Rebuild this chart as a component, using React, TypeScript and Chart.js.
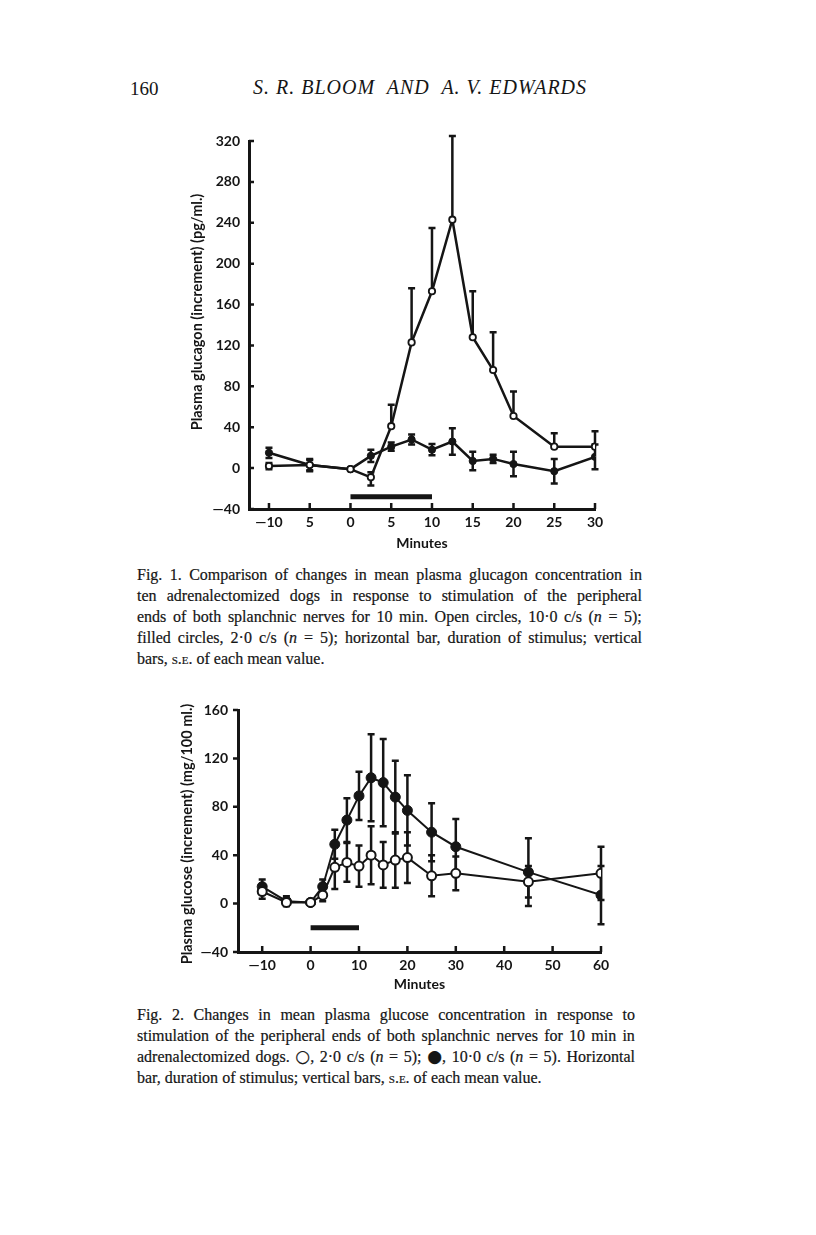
import React, { useEffect, useRef } from "react";
import { Chart, registerables } from "chart.js";
Chart.register(...registerables);

// ---------- Fig. 1 data (plasma glucagon) ----------
const minutes1 = [-10, -5, 0, 2.5, 5, 7.5, 10, 12.5, 15, 17.5, 20, 25, 30];
const open1 = [2, 3, -1, -9, 41, 123, 173, 243, 128, 96, 51, 21, 21];
const open1Up = [3, 5, 0, 5, 21, 53, 62, 82, 45, 37, 24, 13, 15];
const open1Down = [3, 5, 0, 8, 0, 0, 0, 0, 0, 0, 0, 0, 0];
const filled1 = [15, 3, -1, 12, 21, 28, 18, 26, 7, 9, 4, -3, 11];
const filled1Err = [5, 6, 0, 6, 4, 5, 5.5, 13, 9, 4, 12, 12, 12];
const stim1 = [0, 10];
const stimLevel1 = -28;
const xTicks1 = [-10, -5, 0, 5, 10, 15, 20, 25, 30];
const xTickLabels1 = ["\u201410", "5", "0", "5", "10", "15", "20", "25", "30"];

// ---------- Fig. 2 data (plasma glucose) ----------
const minutes2 = [-10, -5, 0, 2.5, 5, 7.5, 10, 12.5, 15, 17.5, 20, 25, 30, 45, 60];
const filled2 = [14, 2, 1, 14, 49, 69, 89, 104, 100, 88, 77, 59, 47, 26, 7];
const filled2Err = [6, 4, 0, 6, 12, 18, 20, 36, 36, 30, 29, 24, 23, 28, 24];
const open2 = [10, 1, 1, 7, 30, 34, 31, 40, 32, 36, 38, 23, 25, 18, 25];
const open2Err = [6, 3, 0, 5, 18, 16, 17, 24, 19, 23, 21, 17, 14, 13, 22];
const stim2 = [0, 10];
const stimLevel2 = -20;
const xTicks2 = [-10, 0, 10, 20, 30, 40, 50, 60];
const xTickLabels2 = ["\u201410", "0", "10", "20", "30", "40", "50", "60"];

const INK = "#151515";
const FONT = "Lato";
const fmt = (v: number) => (v < 0 ? "\u2014" + Math.abs(v) : String(v));
const pts = (xs: number[], ys: number[]) => xs.map((x, i) => ({ x, y: ys[i] }));

const errorBars = {
  id: "errorBars",
  beforeDatasetsDraw(chart: any) {
    const ctx = chart.ctx;
    const xs = chart.scales.x;
    const ys = chart.scales.y;
    chart.data.datasets.forEach((ds: any) => {
      if (!ds.errUp) return;
      ctx.save();
      ctx.strokeStyle = INK;
      ctx.lineWidth = ds.errWidth || 2.5;
      const half = (ds.capWidth || 7) / 2;
      ds.data.forEach((p: any, j: number) => {
        const px = xs.getPixelForValue(p.x);
        const py = ys.getPixelForValue(p.y);
        const ends = [ds.errUp[j], -ds.errDown[j]];
        ends.forEach((e: number) => {
          if (!e) return;
          const ty = ys.getPixelForValue(p.y + e);
          ctx.beginPath();
          ctx.moveTo(px, py);
          ctx.lineTo(px, ty);
          ctx.moveTo(px - half, ty);
          ctx.lineTo(px + half, ty);
          ctx.stroke();
        });
      });
      ctx.restore();
    });
  },
};

const tickMarks = {
  id: "tickMarks",
  afterDraw(chart: any, _args: any, opts: any) {
    const ctx = chart.ctx;
    const ca = chart.chartArea;
    const xs = chart.scales.x;
    const ys = chart.scales.y;
    ctx.save();
    ctx.strokeStyle = INK;
    ctx.lineWidth = opts.width || 2.5;
    ctx.beginPath();
    xs.ticks.forEach((t: any) => {
      const px = xs.getPixelForValue(t.value);
      ctx.moveTo(px, ca.bottom);
      ctx.lineTo(px, ca.bottom - opts.xLen);
    });
    ys.ticks.forEach((t: any) => {
      const py = ys.getPixelForValue(t.value);
      ctx.moveTo(ca.left, py);
      ctx.lineTo(ca.left + opts.yLen, py);
    });
    ctx.stroke();
    ctx.restore();
  },
};

const yTitle = {
  id: "yTitle",
  afterDraw(chart: any, _args: any, opts: any) {
    const ctx = chart.ctx;
    ctx.save();
    ctx.translate(opts.x, opts.y);
    ctx.rotate(-Math.PI / 2);
    ctx.fillStyle = INK;
    ctx.font = `bold ${opts.size}px ${FONT}`;
    ctx.textAlign = "center";
    ctx.textBaseline = "middle";
    ctx.fillText(opts.text, 0, 0);
    ctx.restore();
  },
};

function makeConfig(p: any) {
  const tickFont = { family: FONT, weight: "bold" as const, size: 14 };
  return {
    type: "line" as const,
    data: {
      datasets: [
        {
          data: pts(p.xs, p.open),
          errUp: p.openUp,
          errDown: p.openDown,
          errWidth: p.errWidth,
          capWidth: p.cap,
          borderColor: INK,
          borderWidth: p.lineWidth,
          pointRadius: p.openR,
          pointBorderWidth: p.ptBorder,
          pointBackgroundColor: "#ffffff",
          pointBorderColor: INK,
          tension: 0,
        },
        {
          data: pts(p.xs, p.filled),
          errUp: p.filledErr,
          errDown: p.filledErr,
          errWidth: p.errWidth,
          capWidth: p.cap,
          borderColor: INK,
          borderWidth: p.lineWidth,
          pointRadius: p.filledR,
          pointBorderWidth: 1,
          pointBackgroundColor: INK,
          pointBorderColor: INK,
          tension: 0,
        },
        {
          data: p.stim.map((x: number) => ({ x, y: p.stimLevel })),
          borderColor: INK,
          borderWidth: 5,
          borderCapStyle: "butt",
          pointRadius: 0,
        },
      ],
    },
    options: {
      animation: false,
      responsive: false,
      devicePixelRatio: 1,
      layout: { padding: { left: 0, right: p.padRight, top: p.padTop, bottom: 0 } },
      plugins: {
        legend: { display: false },
        tooltip: { enabled: false },
        tickMarks: { xLen: 6, yLen: p.yTickLen, width: 2.5 },
        yTitle: { text: p.yTitle, x: p.yTitleX, y: p.yTitleY, size: 14.5 },
      },
      scales: {
        x: {
          type: "linear",
          min: p.xMin,
          max: p.xMax,
          afterBuildTicks: (s: any) => {
            s.ticks = p.xTicks.map((v: number) => ({ value: v }));
          },
          afterFit: (s: any) => {
            s.height = p.xHeight;
          },
          grid: { display: false, drawTicks: false },
          border: { display: true, color: INK, width: 3 },
          ticks: {
            callback: (_v: any, i: number) => p.xLabels[i],
            font: tickFont,
            color: INK,
            padding: 5,
            maxRotation: 0,
            autoSkip: false,
          },
          title: {
            display: true,
            text: "Minutes",
            color: INK,
            font: tickFont,
            padding: { top: 0, bottom: p.titlePad },
          },
        },
        y: {
          min: p.yMin,
          max: p.yMax,
          afterFit: (s: any) => {
            s.width = p.yWidth;
          },
          grid: { display: false, drawTicks: false },
          border: { display: true, color: INK, width: 3 },
          ticks: {
            stepSize: 40,
            callback: (v: any) => fmt(v),
            font: tickFont,
            color: INK,
            padding: p.yPad,
          },
        },
      },
    },
    plugins: [errorBars, tickMarks, yTitle],
  };
}

const config1 = makeConfig({
  xs: minutes1,
  open: open1,
  openUp: open1Up,
  openDown: open1Down,
  filled: filled1,
  filledErr: filled1Err,
  stim: stim1,
  stimLevel: stimLevel1,
  xTicks: xTicks1,
  xLabels: xTickLabels1,
  xMin: -12.45,
  xMax: 30,
  yMin: -40,
  yMax: 320,
  lineWidth: 2.5,
  errWidth: 2.5,
  cap: 7,
  openR: 3.2,
  filledR: 3.6,
  ptBorder: 1.8,
  padRight: 35,
  padTop: 21,
  xHeight: 51,
  yWidth: 99,
  yPad: 9,
  yTickLen: 5,
  titlePad: 8,
  yTitle: "Plasma glucagon (increment) (pg/ml.)",
  yTitleX: 47,
  yTitleY: 192,
});

const config2 = makeConfig({
  xs: minutes2,
  open: open2,
  openUp: open2Err,
  openDown: open2Err,
  filled: filled2,
  filledErr: filled2Err,
  stim: stim2,
  stimLevel: stimLevel2,
  xTicks: xTicks2,
  xLabels: xTickLabels2,
  xMin: -15,
  xMax: 60,
  yMin: -40,
  yMax: 160,
  lineWidth: 2,
  errWidth: 2.5,
  cap: 7,
  openR: 4.5,
  filledR: 5,
  ptBorder: 2,
  padRight: 29,
  padTop: 20,
  xHeight: 48,
  yWidth: 88,
  yPad: 10,
  yTickLen: -5,
  titlePad: 7,
  yTitle: "Plasma glucose (increment) (mg/100 ml.)",
  yTitleX: 37,
  yTitleY: 144,
});

function ChartCanvas({ config, left, top, width, height }: any) {
  const ref = useRef<HTMLCanvasElement>(null);
  useEffect(() => {
    const c = new Chart(ref.current as HTMLCanvasElement, config as any);
    return () => c.destroy();
  }, []);
  return (
    <canvas
      ref={ref}
      width={width}
      height={height}
      style={{ position: "absolute", left, top, width, height }}
    />
  );
}

const capStyle: React.CSSProperties = {
  fontFamily: "'Liberation Serif', serif",
  fontSize: 16,
  lineHeight: "21px",
  color: INK,
  WebkitTextStroke: "0.2px #151515",
};
const sc: React.CSSProperties = { fontVariant: "small-caps" };
const sym: React.CSSProperties = { fontFamily: "'DejaVu Sans'", fontSize: 17, lineHeight: "0" };
const N = <i>n</i>;

function Line({ words, last }: { words: React.ReactNode[]; last?: boolean }) {
  if (last) {
    return (
      <div style={{ whiteSpace: "nowrap" }}>
        {words.map((w, i) => (
          <React.Fragment key={i}>
            {i > 0 ? " " : ""}
            {w}
          </React.Fragment>
        ))}
      </div>
    );
  }
  return (
    <div style={{ display: "flex", justifyContent: "space-between", whiteSpace: "nowrap" }}>
      {words.map((w, i) => (
        <span key={i}>{w}</span>
      ))}
    </div>
  );
}

const w = (s: string) => s.split(" ");

export default function App() {
  return (
    <div style={{ position: "absolute", left: 0, top: 0, width: 816, height: 1235, background: "#fff" }}>
      <div
        style={{
          position: "absolute",
          left: 130,
          top: 78,
          fontFamily: "'Liberation Serif', serif",
          fontSize: 19,
          color: INK,
        }}
      >
        160
      </div>
      <div
        style={{
          position: "absolute",
          left: 253,
          top: 76,
          fontFamily: "'Liberation Serif', serif",
          fontStyle: "italic",
          fontSize: 20,
          letterSpacing: 1.0,
          color: INK,
          whiteSpace: "nowrap",
        }}
      >
        S. R. BLOOM&nbsp; AND&nbsp; A. V. EDWARDS
      </div>

      <ChartCanvas config={config1} left={150} top={120} width={480} height={440} />

      <div style={{ ...capStyle, position: "absolute", left: 137, top: 564, width: 505 }}>
        <Line words={w("Fig. 1. Comparison of changes in mean plasma glucagon concentration in")} />
        <Line words={w("ten adrenalectomized dogs in response to stimulation of the peripheral")} />
        <Line
          words={[
            ...w("ends of both splanchnic nerves for 10 min. Open circles, 10·0 c/s"),
            <>({N}</>,
            "=",
            "5);",
          ]}
        />
        <Line
          words={[
            ...w("filled circles, 2·0 c/s"),
            <>({N}</>,
            "=",
            "5);",
            ...w("horizontal bar, duration of stimulus; vertical"),
          ]}
        />
        <Line last words={["bars,", <span style={sc}>s.e.</span>, ...w("of each mean value.")]} />
      </div>

      <ChartCanvas config={config2} left={150} top={690} width={480} height={310} />

      <div style={{ ...capStyle, position: "absolute", left: 137, top: 1004, width: 498 }}>
        <Line words={w("Fig. 2. Changes in mean plasma glucose concentration in response to")} />
        <Line words={w("stimulation of the peripheral ends of both splanchnic nerves for 10 min in")} />
        <Line
          words={[
            ...w("adrenalectomized dogs."),
            <>
              <span style={sym}>○</span>,
            </>,
            "2·0",
            "c/s",
            <>({N}</>,
            "=",
            "5);",
            <>
              <span style={sym}>●</span>,
            </>,
            "10·0",
            "c/s",
            <>({N}</>,
            "=",
            "5).",
            "Horizontal",
          ]}
        />
        <Line
          last
          words={[...w("bar, duration of stimulus; vertical bars,"), <span style={sc}>s.e.</span>, ...w("of each mean value.")]}
        />
      </div>
    </div>
  );
}
